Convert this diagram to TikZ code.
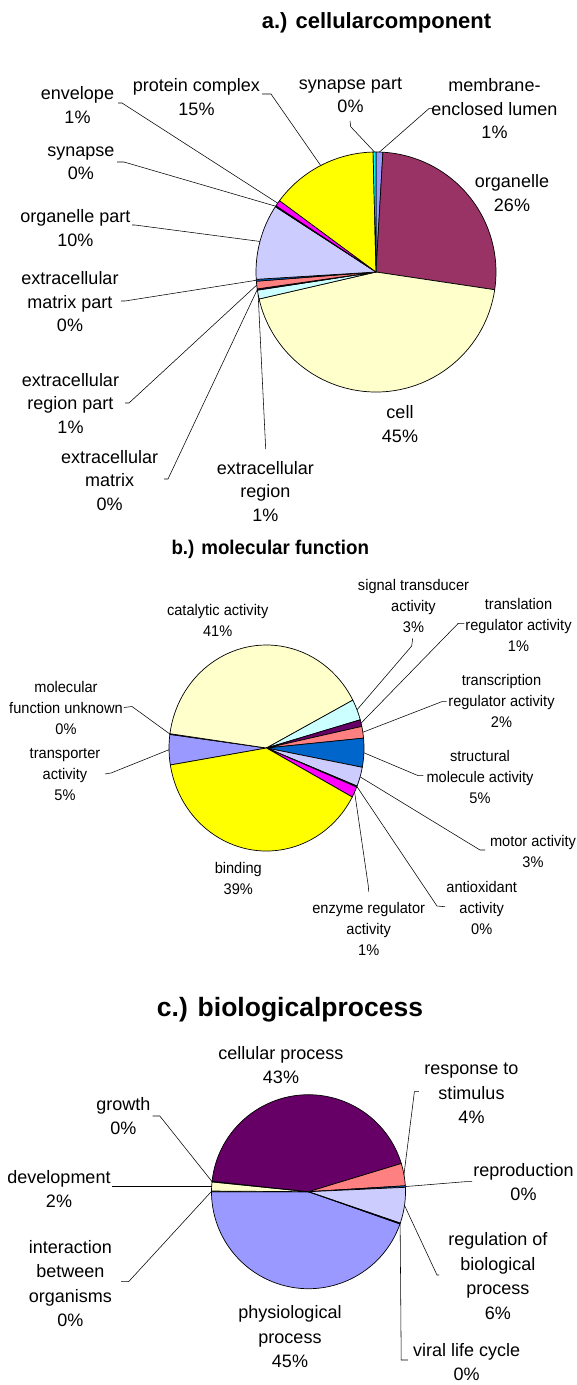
\documentclass[tikz,border=0pt]{standalone}
\usepackage{fontspec}
\setmainfont{Liberation Sans}
\newfontfamily\condfont[FakeStretch=0.947]{Liberation Sans}
\usetikzlibrary{calc}
\definecolor{cPeri}{HTML}{9999FF}
\definecolor{cPlum}{HTML}{993366}
\definecolor{cLYel}{HTML}{FFFFCC}
\definecolor{cLCyan}{HTML}{CCFFFF}
\definecolor{cDPurp}{HTML}{660066}
\definecolor{cSalmon}{HTML}{FF8080}
\definecolor{cOBlue}{HTML}{0066CC}
\definecolor{cLav}{HTML}{CCCCFF}
\definecolor{cNavy}{HTML}{000080}
\definecolor{cMag}{HTML}{FF00FF}
\definecolor{cYel}{HTML}{FFFF00}
\definecolor{cCyan}{HTML}{00FFFF}
\newcommand\pieslice[7]{\filldraw[pieedge, fill=#7] (#1,#2) -- ++(#5:#3pt and #4pt) arc[start angle=#5, end angle=#6, x radius=#3pt, y radius=#4pt] -- cycle;}
\begin{document}
\begin{tikzpicture}[x=1pt,y=1pt,
  pieedge/.style={draw=black, line width=0.7pt, line join=round},
  leader/.style={draw=black, line width=0.55pt},
  lblA/.style={font=\fontsize{18}{23.5}\selectfont, align=center, inner sep=0pt},
  lblB/.style={font=\condfont\fontsize{15.4}{21}\selectfont, align=center, inner sep=0pt},
  lblC/.style={font=\fontsize{18}{24.5}\selectfont, align=center, inner sep=0pt},
  ttl/.style={font=\bfseries\fontsize{22}{26}\selectfont, inner sep=0pt},
  ttlC/.style={font=\bfseries\fontsize{26.5}{30}\selectfont, inner sep=0pt},
  ttlB/.style={font=\condfont\bfseries\fontsize{19.8}{24}\selectfont, inner sep=0pt}]
\useasboundingbox (0,0) rectangle (576,-1385);
\fill[white] (0,0) rectangle (576,-1385);

% ================= chart a =================
\node[ttl] (tA) at (376.5,-23) {a.) cellularcomponent};
\coordinate (cA) at (376,-272);
\pieslice{376}{-272}{120}{120}{90}{86.7}{cPeri}
\pieslice{376}{-272}{120}{120}{86.7}{-8.5}{cPlum}
\pieslice{376}{-272}{120}{120}{-8.5}{-167}{cLYel}
\pieslice{376}{-272}{120}{120}{-167}{-171.3}{cLCyan}
\pieslice{376}{-272}{120}{120}{-171.3}{-171.9}{cDPurp}
\pieslice{376}{-272}{120}{120}{-171.9}{-175.6}{cSalmon}
\pieslice{376}{-272}{120}{120}{-175.6}{-176.5}{cOBlue}
\pieslice{376}{-272}{120}{120}{-176.5}{-213}{cLav}
\pieslice{376}{-272}{120}{120}{-213}{-213.5}{cNavy}
\pieslice{376}{-272}{120}{120}{-213.5}{-216.5}{cMag}
\pieslice{376}{-272}{120}{120}{-216.5}{-268.6}{cYel}
\pieslice{376}{-272}{120}{120}{-268.6}{-270}{cCyan}

\node[lblA] (lProt) at (196.5,-97) {protein complex\\15\%};
\node[lblA] (lEnv) at (77.5,-105) {envelope\\1\%};
\node[lblA] (lSyn) at (80.8,-163) {synapse\\0\%};
\node[lblA] (lOrgP) at (75.3,-228) {organelle part\\10\%};
\node[lblA] (lEMP) at (70,-302) {extracellular\\matrix part\\0\%};
\node[lblA] (lERP) at (70.5,-403.5) {extracellular\\region part\\1\%};
\node[lblA] (lEM) at (109.7,-480.5) {extracellular\\matrix\\0\%};
\node[lblA] (lER) at (265.3,-491.3) {extracellular\\region\\1\%};
\node[lblA] (lCell) at (400,-424) {cell\\45\%};
\node[lblA] (lOrg) at (512,-193) {organelle\\26\%};
\node[lblA] (lSynP) at (350.5,-95.5) {synapse part\\0\%};
\node[lblA] (lMem) at (494.5,-109) {membrane-\\enclosed lumen\\1\%};

\coordinate (pA1) at ($(cA)+(88.35:120pt)$);
\coordinate (pA4) at ($(cA)+(-169.15:120pt)$);
\coordinate (pA5) at ($(cA)+(-171.6:120pt)$);
\coordinate (pA6) at ($(cA)+(-173.75:120pt)$);
\coordinate (pA7) at ($(cA)+(-176.05:120pt)$);
\coordinate (pA8) at ($(cA)+(-194.75:120pt)$);
\coordinate (pA9) at ($(cA)+(-213.25:120pt)$);
\coordinate (pA10) at ($(cA)+(-215:120pt)$);
\coordinate (pA11) at ($(cA)+(-242.55:120pt)$);
\coordinate (pA12) at ($(cA)+(-269.3:120pt)$);

\coordinate (sProt) at (262,-94); \coordinate (eProt) at (271,-94);
\coordinate (sEnv) at (118,-103); \coordinate (eEnv) at (122,-103);
\coordinate (sSyn) at (117,-162); \coordinate (eSyn) at (124,-162);
\coordinate (sOrgP) at (132,-225); \coordinate (eOrgP) at (135,-225);
\coordinate (sEMP) at (121,-301); \coordinate (eEMP) at (125,-301);
\coordinate (sERP) at (125,-403); \coordinate (eERP) at (129,-403);
\coordinate (sEM) at (164,-479); \coordinate (eEM) at (168,-479);
\coordinate (sER) at (265.7,-449);
\coordinate (sSynP) at (350,-121); \coordinate (eSynP) at (350.7,-126.7);
\coordinate (sMem) at (433.3,-108.3); \coordinate (eMem) at (429.3,-108.3);

\draw[leader] (sProt) -- (eProt) -- (pA11);
\draw[leader] (sEnv) -- (eEnv) -- (pA10);
\draw[leader] (sSyn) -- (eSyn) -- (pA9);
\draw[leader] (sOrgP) -- (eOrgP) -- (pA8);
\draw[leader] (sEMP) -- (eEMP) -- (pA7);
\draw[leader] (sERP) -- (eERP) -- (pA6);
\draw[leader] (sEM) -- (eEM) -- (pA5);
\draw[leader] (sER) -- (pA4);
\draw[leader] (sSynP) -- (eSynP) -- (pA12);
\draw[leader] (sMem) -- (eMem) -- (pA1);

% ================= chart b =================
\node[ttlB] (tB) at (270.3,-549.3) {b.) molecular function};
\coordinate (cB) at (266.5,-748);
\pieslice{266.5}{-748}{97.5}{103}{189.5}{172.4}{cPeri}
\pieslice{266.5}{-748}{97.5}{103}{172.4}{172.0}{cPlum}
\pieslice{266.5}{-748}{97.5}{103}{172.0}{27.7}{cLYel}
\pieslice{266.5}{-748}{97.5}{103}{27.7}{15.9}{cLCyan}
\pieslice{266.5}{-748}{97.5}{103}{15.9}{12.1}{cDPurp}
\pieslice{266.5}{-748}{97.5}{103}{12.1}{5.5}{cSalmon}
\pieslice{266.5}{-748}{97.5}{103}{5.5}{-10.8}{cOBlue}
\pieslice{266.5}{-748}{97.5}{103}{-10.8}{-21.7}{cLav}
\pieslice{266.5}{-748}{97.5}{103}{-21.7}{-22.3}{cNavy}
\pieslice{266.5}{-748}{97.5}{103}{-22.3}{-28.4}{cMag}
\pieslice{266.5}{-748}{97.5}{103}{-28.4}{-170.5}{cYel}

\node[lblB] (lCat) at (217.7,-620.3) {catalytic activity\\41\%};
\node[lblB] (lSig) at (413.5,-605.8) {signal transducer\\activity\\3\%};
\node[lblB] (lTrl) at (518.5,-624.8) {translation\\regulator activity\\1\%};
\node[lblB] (lTrc) at (501.5,-701.1) {transcription\\regulator activity\\2\%};
\node[lblB] (lStr) at (480,-777) {structural\\molecule activity\\5\%};
\node[lblB] (lMot) at (533,-851.7) {motor activity\\3\%};
\node[lblB] (lAnt) at (481.7,-908.1) {antioxidant\\activity\\0\%};
\node[lblB] (lEnz) at (368.7,-929.3) {enzyme regulator\\activity\\1\%};
\node[lblB] (lBind) at (238.3,-878.3) {binding\\39\%};
\node[lblB] (lUnk) at (66,-708.1) {molecular\\function unknown\\0\%};
\node[lblB] (lTrp) at (65,-775) {transporter\\activity\\5\%};

\coordinate (pB1) at ($(cB)+(180.95:97.5pt and 103pt)$);
\coordinate (pB2) at ($(cB)+(172.2:97.5pt and 103pt)$);
\coordinate (pB4) at ($(cB)+(21.8:97.5pt and 103pt)$);
\coordinate (pB5) at ($(cB)+(14:97.5pt and 103pt)$);
\coordinate (pB6) at ($(cB)+(8.8:97.5pt and 103pt)$);
\coordinate (pB7) at ($(cB)+(-2.65:97.5pt and 103pt)$);
\coordinate (pB8) at ($(cB)+(-16.25:97.5pt and 103pt)$);
\coordinate (pB9) at ($(cB)+(-22:97.5pt and 103pt)$);
\coordinate (pB10) at ($(cB)+(-25.35:97.5pt and 103pt)$);

\coordinate (sUnk) at (124,-707.5); \coordinate (eUnk) at (132,-706.5);
\coordinate (sTrp) at (105,-774); \coordinate (eTrp) at (111,-773);
\coordinate (sSig) at (412.7,-638.3); \coordinate (eSig) at (411.7,-646);
\coordinate (sTrl) at (464.3,-623.3); \coordinate (eTrl) at (458.3,-623.3);
\coordinate (sTrc) at (446.7,-701.7); \coordinate (eTrc) at (441.7,-701.7);
\coordinate (sStr) at (423.3,-775.7); \coordinate (eStr) at (418.3,-775.7);
\coordinate (sMot) at (485,-850); \coordinate (eMot) at (480,-850);
\coordinate (sAnt) at (445,-906.7); \coordinate (eAnt) at (437,-906);
\coordinate (sEnz) at (368.7,-891.7); \coordinate (eEnz) at (368.3,-886);

\draw[leader] (sUnk) -- (eUnk) -- (pB2);
\draw[leader] (sTrp) -- (eTrp) -- (pB1);
\draw[leader] (sSig) -- (eSig) -- (pB4);
\draw[leader] (sTrl) -- (eTrl) -- (pB5);
\draw[leader] (sTrc) -- (eTrc) -- (pB6);
\draw[leader] (sStr) -- (eStr) -- (pB7);
\draw[leader] (sMot) -- (eMot) -- (pB8);
\draw[leader] (sAnt) -- (eAnt) -- (pB9);
\draw[leader] (sEnz) -- (eEnz) -- (pB10);

% ================= chart c =================
\node[ttlC] (tC) at (290,-1010) {c.) biologicalprocess};
\coordinate (cC) at (308.5,-1191.7);
\pieslice{308.5}{-1191.7}{97}{97}{-19.4}{-180}{cPeri}
\pieslice{308.5}{-1191.7}{97}{97}{180}{179.6}{cPlum}
\pieslice{308.5}{-1191.7}{97}{97}{179.6}{174.2}{cLYel}
\pieslice{308.5}{-1191.7}{97}{97}{174.2}{173.8}{cLCyan}
\pieslice{308.5}{-1191.7}{97}{97}{173.8}{16.9}{cDPurp}
\pieslice{308.5}{-1191.7}{97}{97}{16.9}{3.5}{cSalmon}
\pieslice{308.5}{-1191.7}{97}{97}{3.5}{2.6}{cOBlue}
\pieslice{308.5}{-1191.7}{97}{97}{2.6}{-18.9}{cLav}
\pieslice{308.5}{-1191.7}{97}{97}{-18.9}{-19.4}{cNavy}

\node[lblC] (lCel) at (281,-1065) {cellular process\\43\%};
\node[lblC] (lRes) at (471.5,-1093.4) {response to\\stimulus\\4\%};
\node[lblC] (lGro) at (123.4,-1116.3) {growth\\0\%};
\node[lblC] (lDev) at (59,-1189.2) {development\\2\%};
\node[lblC] (lRep) at (523.5,-1182) {reproduction\\0\%};
\node[lblC] (lReg) at (497.8,-1276.2) {regulation of\\biological\\process\\6\%};
\node[lblC] (lInt) at (70.3,-1283.3) {interaction\\between\\organisms\\0\%};
\node[lblC] (lPhy) at (290,-1336.6) {physiological\\process\\45\%};
\node[lblC] (lVir) at (466.6,-1362) {viral life cycle\\0\%};

\coordinate (pC2) at ($(cC)+(179.8:97pt)$);
\coordinate (pC3) at ($(cC)+(176.9:97pt)$);
\coordinate (pC4) at ($(cC)+(174:97pt)$);
\coordinate (pC6) at ($(cC)+(10.2:97pt)$);
\coordinate (pC7) at ($(cC)+(3.05:97pt)$);
\coordinate (pC8) at ($(cC)+(-8.15:97pt)$);
\coordinate (pC9) at ($(cC)+(-19.15:97pt)$);

\coordinate (sRes) at (418.8,-1091.7); \coordinate (eRes) at (414.4,-1091.7);
\coordinate (sGro) at (152.5,-1116); \coordinate (eGro) at (159.8,-1116);
\coordinate (sDev) at (112,-1186.7);
\coordinate (sRep) at (472,-1181.7); \coordinate (eRep) at (465,-1181.7);
\coordinate (sReg) at (439,-1275); \coordinate (eReg) at (437,-1275);
\coordinate (sVir) at (407.8,-1360); \coordinate (eVir) at (401.2,-1360);
\coordinate (sInt) at (121.2,-1281.7); \coordinate (eInt) at (128.6,-1281.7);

\draw[leader] (sRes) -- (eRes) -- (pC6);
\draw[leader] (sGro) -- (eGro) -- (pC4);
\draw[leader] (sDev) -- (sDev -| pC3) -- (pC3);
\draw[leader] (sRep) -- (eRep) -- (pC7);
\draw[leader] (sReg) -- (eReg) -- (pC8);
\draw[leader] (sVir) -- (eVir) -- (pC9);
\draw[leader] (sInt) -- (eInt) -- (pC2);
\end{tikzpicture}
\end{document}
